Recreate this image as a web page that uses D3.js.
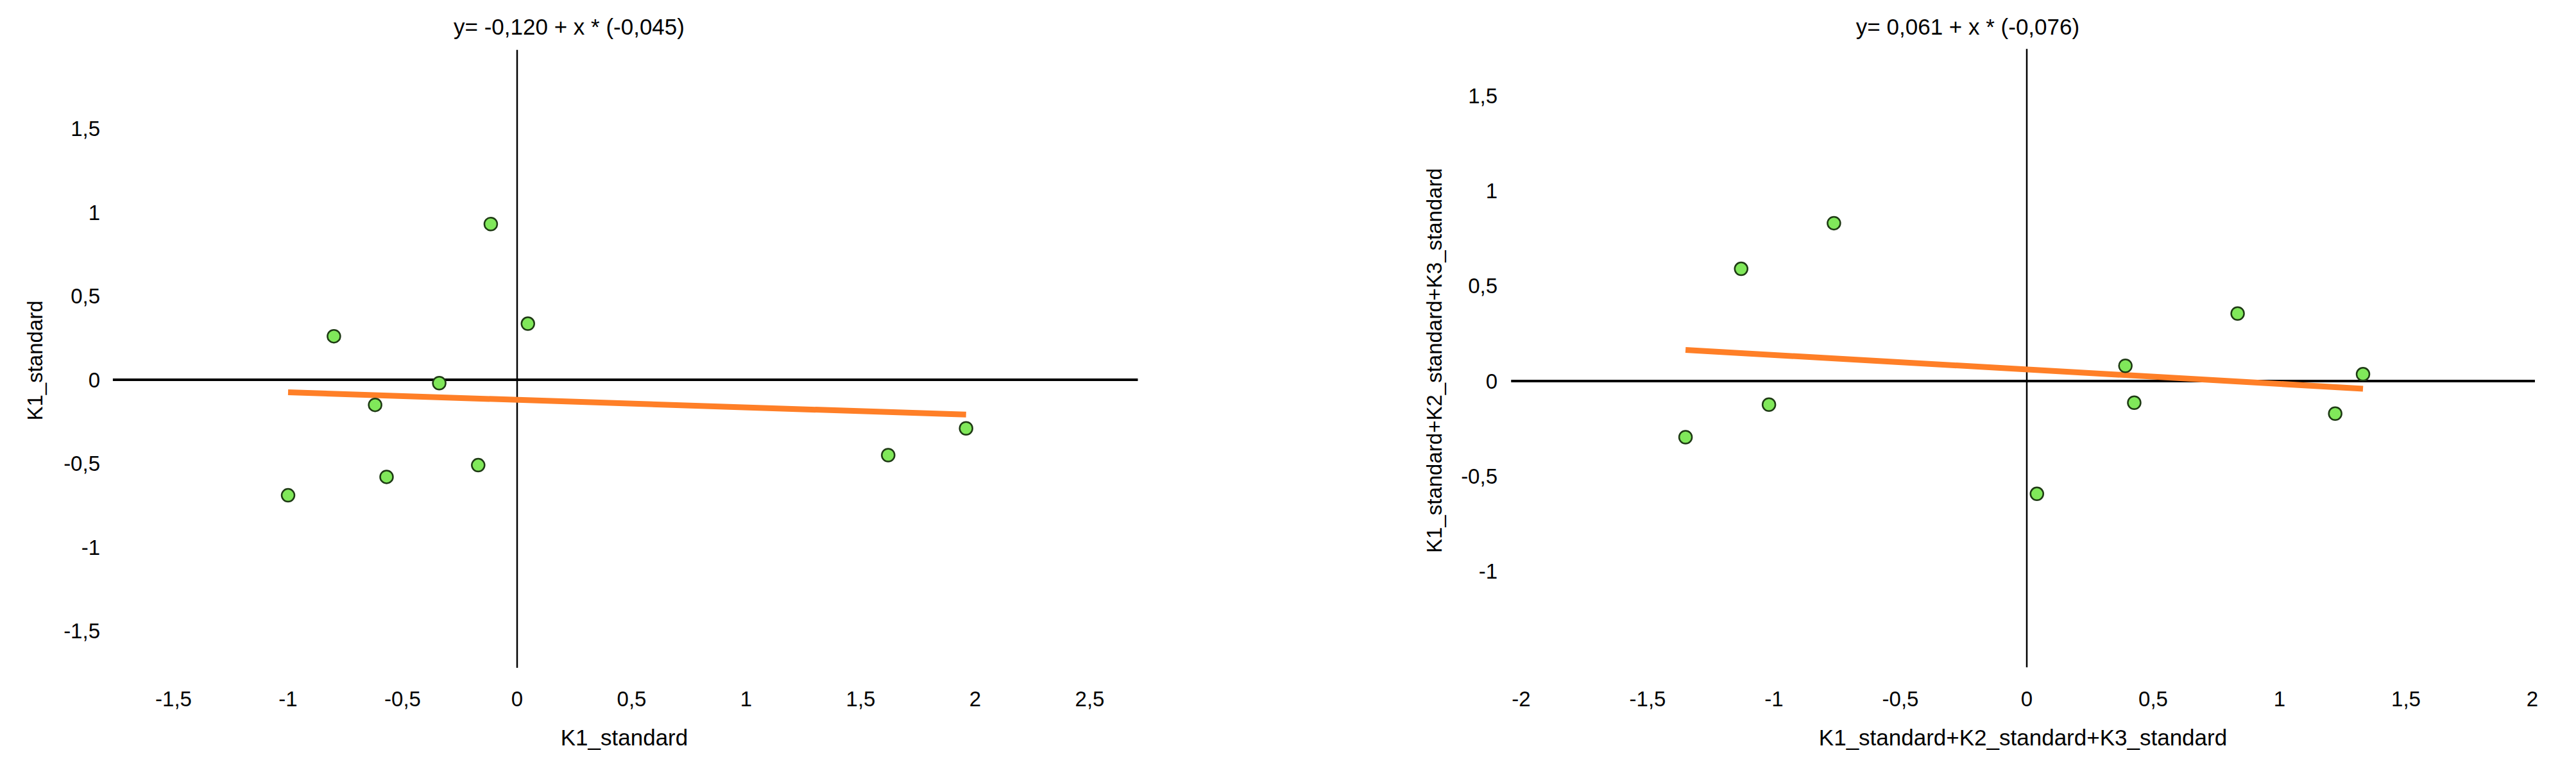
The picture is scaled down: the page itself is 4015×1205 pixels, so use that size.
<!DOCTYPE html>
<html><head><meta charset="utf-8">
<script src="https://cdn.jsdelivr.net/npm/d3@7"></script>
<style>body{margin:0;background:#fff}text{font-family:"Liberation Sans",Arial,sans-serif;fill:#000}</style>
</head><body>
<svg id="c" width="4015" height="1205"></svg>
<script>
// Left chart data
const leftX = [-0.115, 0.047, -0.80, -0.34, -0.62, -0.57, -0.17, -1.00, 1.62, 1.96];
const leftY = [0.93, 0.335, 0.26, -0.02, -0.15, -0.58, -0.51, -0.69, -0.45, -0.29];
const leftXTicks = [-1.5, -1, -0.5, 0, 0.5, 1, 1.5, 2, 2.5];
const leftYTicks = [-1.5, -1, -0.5, 0, 0.5, 1, 1.5];
// Right chart data
const rightX = [-0.763, -1.13, -1.02, -1.35, 0.04, 0.39, 0.425, 0.834, 1.22, 1.33];
const rightY = [0.83, 0.59, -0.124, -0.295, -0.593, 0.08, -0.114, 0.355, -0.171, 0.036];
const rightXTicks = [-2, -1.5, -1, -0.5, 0, 0.5, 1, 1.5, 2];
const rightYTicks = [-1, -0.5, 0, 0.5, 1, 1.5];

const svg = d3.select("#c");
const fmt = v => String(v).replace(".", ",");

function chart(cfg) {
  const x = d3.scaleLinear().domain([0, 1]).range([cfg.x0, cfg.x0 + cfg.ux]);
  const y = d3.scaleLinear().domain([0, 1]).range([cfg.y0, cfg.y0 - cfg.uy]);
  const g = svg.append("g");

  // axes through origin
  g.append("line").attr("x1", x(cfg.hx[0])).attr("x2", x(cfg.hx[1]))
    .attr("y1", y(0)).attr("y2", y(0)).attr("stroke", "#000").attr("stroke-width", 4);
  g.append("line").attr("x1", x(0)).attr("x2", x(0))
    .attr("y1", y(cfg.vy[0])).attr("y2", y(cfg.vy[1])).attr("stroke", "#000").attr("stroke-width", 2.5);

  // tick labels
  g.selectAll("text.xt").data(cfg.xTicks).enter().append("text")
    .attr("x", d => x(d)).attr("y", 1101).attr("text-anchor", "middle")
    .style("font-size", "33px").text(fmt);
  g.selectAll("text.yt").data(cfg.yTicks).enter().append("text")
    .attr("x", cfg.yLabelX).attr("y", d => y(d)).attr("dy", "0.35em").attr("text-anchor", "end")
    .style("font-size", "33px").text(fmt);

  // regression line
  const lx = d3.extent(cfg.xs);
  g.append("line").attr("x1", x(lx[0])).attr("x2", x(lx[1]))
    .attr("y1", y(cfg.a + cfg.b * lx[0])).attr("y2", y(cfg.a + cfg.b * lx[1]))
    .attr("stroke", "#ff7f27").attr("stroke-width", 9);

  // points
  g.selectAll("circle").data(cfg.xs.map((v, i) => [v, cfg.ys[i]])).enter().append("circle")
    .attr("cx", d => x(d[0])).attr("cy", d => y(d[1])).attr("r", 10)
    .attr("fill", "#80e85a").attr("stroke", "#1e3a14").attr("stroke-width", 2.5);

  // titles
  g.append("text").attr("x", cfg.titleX).attr("y", 54).attr("text-anchor", "middle")
    .style("font-size", "35px").text(cfg.title);
  g.append("text").attr("x", cfg.xTitleX).attr("y", 1162).attr("text-anchor", "middle")
    .style("font-size", "35px").text(cfg.xTitle);
  g.append("text").attr("transform", `translate(${cfg.yTitleX},562) rotate(-90)`)
    .attr("text-anchor", "middle").attr("dy", "0.35em")
    .style("font-size", "33px").text(cfg.yTitle);
}

chart({x0: 806, ux: 357, y0: 592, uy: 261, hx: [-1.765, 2.71], vy: [1.97, -1.72],
  xTicks: leftXTicks, yTicks: leftYTicks, yLabelX: 156, xs: leftX, ys: leftY,
  a: -0.120, b: -0.045, title: "y= -0,120 + x * (-0,045)", titleX: 887,
  xTitle: "K1_standard", xTitleX: 973, yTitle: "K1_standard", yTitleX: 54});

chart({x0: 3159, ux: 394, y0: 594, uy: 296.5, hx: [-2.04, 2.01], vy: [1.746, -1.505],
  xTicks: rightXTicks, yTicks: rightYTicks, yLabelX: 2334, xs: rightX, ys: rightY,
  a: 0.061, b: -0.076, title: "y= 0,061 + x * (-0,076)", titleX: 3067,
  xTitle: "K1_standard+K2_standard+K3_standard", xTitleX: 3153,
  yTitle: "K1_standard+K2_standard+K3_standard", yTitleX: 2235});
</script>
</body></html>
